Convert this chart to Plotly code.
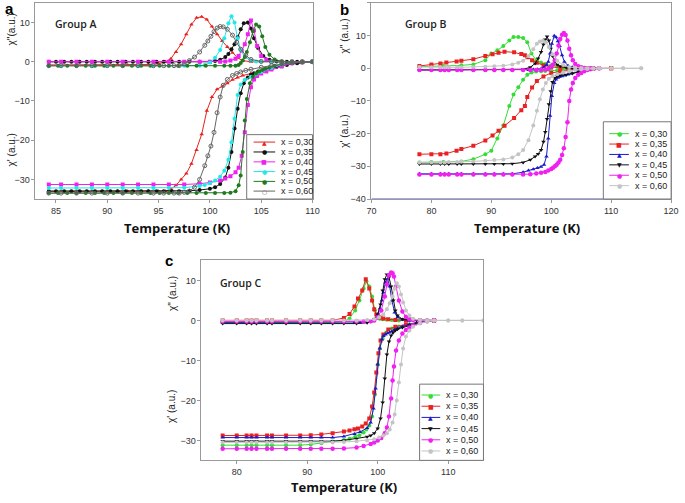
import plotly.graph_objects as go

W, H = 685, 503
LABELS = ["x = 0,30", "x = 0,35", "x = 0,40", "x = 0,45", "x = 0,50", "x = 0,60"]

# ---------------- Panel A (Group A) ----------------
a30_T = [84.3, 85.5, 87, 88.5, 90, 91, 92, 93, 94, 95, 95.7, 96.2, 96.7, 97.2, 97.7, 98.2, 98.7, 99.2, 99.7, 100.2,
         100.7, 101.2, 101.7, 102.2, 102.7, 103.2, 104, 105, 106, 107, 108, 109, 110]
a30_chi2 = [-0.8, -0.8, -0.8, -0.8, -0.8, -0.8, -0.8, -0.8, -0.7, -0.5, 0, 0.8, 2.5, 4.5, 7, 9.5, 11.2, 11.5, 10.8, 9,
            7, 5.3, 3.8, 2.3, 1, 0.3, 0, 0, 0, 0, 0, 0, 0]
a30_chi1 = [-33, -33, -33, -33, -33, -33, -33, -33, -33, -33, -33, -32.5, -31.5, -30, -28.5, -26, -22.5, -18.5, -12.5, -9,
            -7, -6.3, -5.5, -4.6, -4, -3.5, -3, -2.3, -1.8, -1.2, -0.5, -0.2, 0]

a35_T = [84.3, 85, 85.8, 86.5, 87.3, 88, 88.8, 89.5, 90.3, 91, 91.8, 92.5, 93.3, 94, 94.8, 95.5, 96.3, 97, 98, 99,
         100, 100.5, 101, 101.5, 101.8, 102.1, 102.4, 102.7, 103, 103.3, 103.7, 104, 104.3, 104.7, 105.2, 105.8, 106.5,
         107.5, 108.5, 110]
a35_chi2 = [0, 0, 0, 0, 0, 0, 0, 0, 0, 0, 0, 0, 0, 0, 0, 0, 0, 0, 0, 0,
            0, 0.2, 0.5, 1.2, 2, 3.2, 4.5, 6.3, 8.3, 9.8, 10, 8.5, 6, 3.5, 1.5, 0.5, 0.1, 0, 0, 0]
a35_chi1 = [-33, -33, -33, -33, -33, -33, -33, -33, -33, -33, -33, -33, -33, -33, -33, -33, -33, -33, -32.9, -32.7,
            -32.4, -32, -31.2, -29.5, -27, -23, -17, -12, -8, -5.5, -4, -3.3, -2.9, -2.5, -2.1, -1.7, -1.3, -0.8, -0.4, 0]

a40_T = [84.3, 85.5, 87, 88.5, 90, 91.5, 93, 94.5, 96, 97.5, 99, 100, 101, 101.5, 102, 102.5, 102.8, 103.1, 103.4, 103.7,
         104, 104.3, 104.6, 105, 105.5, 106, 107, 108, 109, 110]
a40_chi2 = [0, 0, 0, 0, 0, 0, 0, 0, 0, 0, 0, 0, 0, 0.1, 0.3, 0.8, 1.5, 2.8, 4.5, 7,
            10.5, 8, 4, 1.5, 0.5, 0.1, 0, 0, 0, 0]
a40_chi1 = [-31.3, -31.3, -31.3, -31.3, -31.3, -31.3, -31.3, -31.3, -31.3, -31.3, -31.1, -30.8, -30.3, -29.8, -29.2,
            -28.2, -27, -24, -18, -11, -6.5, -4.5, -3.6, -3, -2.5, -2, -1.2, -0.4, -0.1, 0]

a45_T = [84.3, 85.5, 87, 88.5, 90, 91.5, 93, 94.5, 96, 97.5, 99, 99.5, 100, 100.5, 101, 101.4, 101.8, 102.1, 102.4,
         102.7, 103, 103.4, 104, 104.5, 105, 106, 107, 108, 110]
a45_chi2 = [-1, -1, -1, -1, -1, -1, -1, -1, -1, -1, -1, -0.8, -0.2, 1, 3, 6, 9.8, 11.6, 10,
            6, 3, 1.2, 0.3, 0.1, 0, 0, 0, 0, 0]
a45_chi1 = [-32.2, -32.2, -32.2, -32.2, -32.2, -32.2, -32.2, -32.2, -32.2, -32.1, -31.7, -31.4, -31, -30.3, -29.3,
            -27.8, -25, -20.5, -14.5, -8.5, -5.8, -4.6, -3.8, -3.2, -2.6, -1.6, -0.8, -0.2, 0]

a50_T = [84.3, 85.2, 86.1, 87, 87.9, 88.8, 89.7, 90.6, 91.5, 92.4, 93.3, 94.2, 95.1, 96, 96.9, 97.8, 98.7, 99.6, 100.5,
         101.4, 102, 102.5, 102.8, 103, 103.2, 103.4, 103.6, 103.9, 104.2, 104.5, 104.8, 105.1, 105.4, 105.8, 106.3,
         107, 108, 109, 110]
a50_chi2 = [-1, -1, -1, -1, -1, -1, -1, -1, -1, -1, -1, -1, -1, -1, -1, -1, -1, -1, -1, -1, -1, -1,
            -0.8, -0.3, 0.3, 1.2, 2.5, 5, 7.8, 9.5, 9, 6.5, 3.8, 1.8, 0.6, 0.1, 0, 0, 0]
a50_chi1 = [-33.5, -33.5, -33.5, -33.5, -33.5, -33.5, -33.5, -33.5, -33.5, -33.5, -33.5, -33.5, -33.5, -33.5, -33.5,
            -33.5, -33.5, -33.5, -33.5, -33.5, -33.4, -33, -31.5, -29, -23, -15, -9.5, -5.5, -3.8, -3, -2.5, -2.1,
            -1.8, -1.4, -1, -0.6, -0.2, 0, 0]

a60_T = [84.3, 85.5, 87, 88.5, 90, 91.5, 93, 94.5, 95.5, 96.5, 97, 97.5, 98, 98.5, 99, 99.5, 99.8, 100.1, 100.4, 100.7,
         101, 101.3, 101.7, 102.2, 102.6, 103, 103.5, 104, 105, 106, 107, 108, 109, 110]
a60_chi2 = [-1, -1, -1, -1, -1, -1, -1, -1, -1, -1, -1, -0.5, 0.3, 1.2, 2.5, 4.2, 5.3, 6.5, 7.7, 8.6,
            9, 8.9, 8.3, 6.8, 5, 3.2, 1.6, 0.6, 0.1, 0, 0, 0, 0, 0]
a60_chi1 = [-33.5, -33.5, -33.5, -33.5, -33.5, -33.5, -33.5, -33.5, -33.5, -33.5, -33.5, -33.3, -33, -32, -30, -26.5,
            -24, -21.5, -18, -13, -9, -6, -4.5, -3.5, -3, -2.6, -2.2, -1.9, -1.4, -1, -0.6, -0.3, -0.1, 0]

# ---------------- Panel B (Group B) ----------------
b30_T = [78, 80, 82, 85, 87, 89, 90, 91, 92, 93, 93.7, 94.5, 95.3, 96, 96.7, 97.5, 98.3, 99, 100, 101, 102, 103, 104,
         105, 106]
b30_chi2 = [0.5, 0.6, 0.7, 0.9, 1.2, 2.5, 4.5, 5.5, 6.8, 8.5, 9.6, 9.6, 9.3, 8, 4.5, 2.5, 1.8, 1.3, 0.9, 0.6, 0.4, 0.2,
            0.1, 0, 0]
b30_chi1 = [-28.8, -28.7, -28.7, -28.5, -27.8, -26.3, -25.2, -21.5, -17.5, -11.5, -8, -5.8, -3.5, -2, -1.3, -1, -0.9,
            -0.8, -0.7, -0.6, -0.5, -0.4, -0.2, -0.1, 0]

b35_T = [78, 80, 81.5, 82.5, 84.2, 85, 87, 89, 90.2, 91.2, 92.2, 93.8, 95, 95.6, 96, 96.8, 97.6, 98.7, 100, 101.5, 103,
         105, 107, 110]
b35_chi2 = [0.7, 1.2, 1.5, 1.8, 2.1, 2.3, 2.8, 3.8, 4.3, 4.8, 5.1, 4.9, 4.4, 4, 3.4, 2.5, 1.7, 0.9, 0.4, 0.2, 0.1, 0, 0, 0]
b35_chi1 = [-26.3, -26.3, -26.3, -26.1, -25.2, -24.7, -23.7, -22.1, -20.6, -19.1, -17.6, -15.2, -12.8, -11.5, -8.8,
            -5.9, -3.9, -2.5, -1.4, -0.9, -0.6, -0.3, -0.1, 0]

b40_T = [78, 80, 81.5, 82.2, 82.9, 84.3, 85, 87, 89, 90.5, 92, 93.5, 95.3, 96.2, 97, 97.7, 98.3, 98.8, 99.2, 99.5, 99.8,
         100.1, 100.5, 100.8, 101.1, 101.4, 101.8, 102.2, 102.8, 103.5, 104.5, 106, 108]
b40_chi2 = [-0.5, -0.5, -0.5, -0.5, -0.5, -0.5, -0.5, -0.5, -0.5, -0.5, -0.5, -0.5, -0.5, -0.5, -0.4, -0.3, -0.1, 0.3,
            1, 2, 4.5, 7.5, 10, 9.5, 8.3, 6.8, 4, 2, 0.8, 0.3, 0.1, 0, 0]
b40_chi1 = [-32.3, -32.3, -32.3, -32.3, -32.3, -32.3, -32.3, -32.3, -32.3, -32.3, -32.3, -32.3, -31.8, -31.3, -30.9,
            -30.5, -30.1, -29.5, -27, -21.5, -14.5, -8.5, -4.5, -3.4, -2.9, -2.6, -2.4, -2.2, -1.9, -1.5, -1, -0.4, 0]

b45_T = [78, 80, 81.5, 82.2, 82.9, 84.3, 85, 87, 89, 90.5, 92, 93.5, 95.3, 96.5, 97.3, 97.8, 98.3, 98.7, 99, 99.3, 99.6,
         99.9, 100.2, 100.6, 101, 101.5, 102.5, 103.5, 104.5, 105.5, 107]
b45_chi2 = [-0.5, -0.5, -0.5, -0.5, -0.5, -0.5, -0.5, -0.5, -0.5, -0.5, -0.5, -0.5, -0.3, 0.3, 1.5, 3, 5, 7.3, 8.8, 9.7,
            8.5, 6, 3.8, 2, 1.1, 0.6, 0.2, 0.1, 0, 0, 0]
b45_chi1 = [-29.3, -29.3, -29.3, -29.3, -29.3, -29.3, -29.3, -29.3, -29.3, -29.3, -29.3, -29.2, -28.8, -28, -27,
            -26.2, -25, -22.5, -19.5, -15.5, -11, -7, -4.2, -3, -2.5, -2.2, -2, -1.6, -1.1, -0.6, 0]

b50_T = [78, 80, 81.5, 82.2, 82.9, 84.3, 85, 87, 89, 90.5, 92, 93.5, 95.3, 96.5, 97.5, 98.3, 99, 99.5, 100, 100.3, 100.6,
         100.9, 101.2, 101.5, 101.8, 102.1, 102.4, 102.7, 103, 103.3, 103.6, 104, 104.5, 105, 105.5, 106, 106.5, 107, 108]
b50_chi2 = [-0.5, -0.5, -0.5, -0.5, -0.5, -0.5, -0.5, -0.5, -0.5, -0.5, -0.5, -0.5, -0.5, -0.5, -0.5, -0.5,
            -0.4, -0.2, 0.5, 1.2, 2.5, 4.5, 7, 9, 10.3, 10.8, 10.2, 8.5, 6, 4, 2.5, 1.3, 0.6, 0.3, 0.1, 0, 0, 0, 0]
b50_chi1 = [-32.5, -32.5, -32.5, -32.5, -32.5, -32.5, -32.5, -32.5, -32.5, -32.5, -32.5, -32.5, -32.5,
            -32.4, -32.2, -32, -31.7, -31.3, -30.8, -30.4, -30, -29.5, -28.8, -28, -26.5, -24.5, -21, -16.5, -10,
            -6.5, -4.5, -3, -2, -1.4, -0.9, -0.5, -0.3, -0.1, 0]

b60_T = [78, 80, 81.5, 82.2, 82.9, 84.3, 85, 87, 89, 90.5, 92, 93.5, 94.5, 95.3, 96.2, 97, 97.6, 98.1, 98.6, 99.1, 99.6,
         100.2, 101, 102, 103, 104, 105, 106, 107, 108, 110, 112, 115]
b60_chi2 = [0.4, 0.3, 0.3, 0.3, 0.3, 0.3, 0.3, 0.4, 0.5, 0.6, 0.8, 1.2, 1.7, 2.3, 3.8, 5.8, 7.5, 8.2, 8.4, 8, 6.5, 4.3,
            2.3, 1, 0.4, 0.2, 0.1, 0, 0, 0, 0, 0, 0]
b60_chi1 = [-28.8, -28.8, -28.8, -28.8, -28.7, -28.7, -28.6, -28.5, -28.3, -28.1, -27.9, -27.3, -26.3, -25, -22,
            -17.5, -13, -9.5, -6.5, -4.5, -3.2, -2.4, -1.8, -1.2, -0.8, -0.5, -0.3, -0.2, -0.1, 0, 0, 0, 0]

# ---------------- Panel C (Group C) ----------------
c30_T = [78, 80, 81.4, 82.1, 82.8, 84.3, 85, 87, 89, 90.5, 92, 93.6, 95.2, 96, 96.8, 97.4, 98, 98.4, 98.8, 99.2, 99.6,
         100, 100.3, 100.7, 101.2, 102, 103, 104.5, 106, 108]
c30_chi2 = [-0.5, -0.5, -0.5, -0.5, -0.5, -0.5, -0.5, -0.5, -0.5, -0.5, -0.5, -0.5, -0.3, 0.5, 2.5, 5, 8, 9.8, 8.5, 6,
            2.5, 0.8, 0.4, 0.3, 0.2, 0.1, 0, 0, 0, 0]
c30_chi1 = [-31.2, -31.2, -31.2, -31.2, -31.2, -31.2, -31.2, -31.2, -31.2, -31, -30.7, -30.3, -29.9, -29.6, -29.1,
            -28.7, -28, -27.3, -26.3, -24, -18.5, -11, -7, -4.5, -3, -2, -1.5, -1, -0.5, 0]

c35_T = [78, 80, 81.4, 82.1, 82.8, 84.3, 85, 87, 89, 90.5, 92, 93.6, 95.2, 96, 96.7, 97.2, 97.8, 98.3, 98.8, 99.2, 99.5,
         99.8, 100.1, 100.4, 100.8, 101.5, 102.5, 104, 106, 108]
c35_chi2 = [0, 0, 0, 0, 0, 0, 0, 0, 0, 0, 0, 0, 0.6, 1.6, 3.5, 5.5, 7.5, 10.3, 8, 5, 2.8, 1.5, 0.9, 0.7, 0.5, 0.3, 0.1,
            0, 0, 0]
c35_chi1 = [-28.8, -28.8, -28.8, -28.8, -28.8, -28.8, -28.8, -28.8, -28.8, -28.7, -28.5, -28.2, -27.8, -27.5, -27.2,
            -27, -26.5, -25.8, -24.5, -21.5, -18, -13, -8.2, -5, -3.5, -2.3, -1.6, -1, -0.5, 0]

c40_T = [78, 80, 81.4, 82.1, 82.8, 84.3, 85, 87, 89, 90.5, 92, 93.6, 95.2, 96.7, 97.5, 98.5, 99, 99.4, 99.7, 100, 100.3,
         100.6, 100.8, 101.1, 101.4, 101.7, 102, 102.4, 102.8, 103.5, 104.5, 106, 107]
c40_chi2 = [-0.5, -0.5, -0.5, -0.5, -0.5, -0.5, -0.5, -0.5, -0.5, -0.5, -0.5, -0.5, -0.5, -0.5, -0.5, -0.4, -0.2, 0,
            0.5, 1.5, 3, 5, 7, 9.5, 10.3, 8.5, 5, 2, 0.8, 0.2, 0, 0, 0]
c40_chi1 = [-29.3, -29.3, -29.3, -29.3, -29.3, -29.3, -29.3, -29.3, -29.3, -29.3, -29.3, -29.3, -29, -28.4, -27.9,
            -26.9, -25.5, -22, -17, -11, -7, -4.8, -3.9, -3.5, -3.2, -3, -2.7, -2.3, -2, -1.5, -1, -0.3, 0]

c45_T = [78, 80, 81.4, 82.1, 82.8, 84.3, 85, 87, 89, 90.5, 92, 93.6, 95.2, 97, 98.5, 99, 99.5, 100, 100.4, 100.7, 101,
         101.3, 101.6, 101.9, 102.2, 102.5, 102.8, 103.5, 104.5, 105.5, 107, 108]
c45_chi2 = [-0.8, -0.8, -0.8, -0.8, -0.8, -0.8, -0.8, -0.8, -0.8, -0.8, -0.8, -0.8, -0.8, -0.8, -0.6, -0.3, 0.3, 1.5,
            4, 7.5, 10.3, 11.5, 10.8, 8.5, 5, 2.5, 1.2, 0.3, 0.1, 0, 0, 0]
c45_chi1 = [-30.2, -30.2, -30.2, -30.2, -30.2, -30.2, -30.2, -30.2, -30.2, -30.2, -30.2, -30.2, -30, -29.6, -29.1,
            -28.8, -28.2, -27, -24.5, -20.5, -14.5, -8.5, -5.3, -3.8, -3, -2.5, -2.2, -1.8, -1.3, -0.8, -0.2, 0]

c50_T = [78, 80, 81.4, 82.1, 82.8, 84.3, 85, 87, 89, 90.5, 92, 93.6, 95.2, 97, 98, 99, 99.5, 100, 100.5, 101, 101.3,
         101.6, 101.9, 102.1, 102.3, 102.6, 103, 103.5, 104, 104.5, 105, 106, 107, 108]
c50_chi2 = [-0.3, -0.3, -0.3, -0.3, -0.3, -0.3, -0.3, -0.3, -0.3, -0.3, -0.3, -0.3, -0.3, -0.3, -0.3, -0.2, 0, 0.8,
            2.5, 6, 9, 11.3, 12, 11.8, 11, 8.5, 5, 2.2, 0.9, 0.3, 0.1, 0, 0, 0]
c50_chi1 = [-32.1, -32.1, -32.1, -32.1, -32.1, -32.1, -32.1, -32.1, -32.1, -32.1, -32.1, -32.1, -32, -31.8, -31.4,
            -30.9, -30.5, -30, -29.4, -28.2, -26.8, -24, -19.5, -15, -11.5, -7.5, -5, -3.3, -2.4, -1.8, -1.3, -0.6,
            -0.2, 0]

c60_T = [78, 80, 81.4, 82.1, 82.8, 84.3, 85, 87, 89, 90.5, 92, 93.6, 95.2, 97, 98.5, 99.5, 100.2, 100.8, 101.3, 101.7,
         102.1, 102.4, 102.7, 103, 103.3, 103.6, 104, 104.5, 105, 106, 107, 108, 110, 112, 115]
c60_chi2 = [0, 0, 0, 0, 0, 0, 0, 0, 0, 0, 0, 0, 0, 0, 0.1, 0.3, 0.8, 1.5, 2.8, 4.3, 6, 8, 9.3, 8.5, 6.5, 4.5, 2.5, 1.2,
            0.4, 0.1, 0, 0, 0, 0, 0]
c60_chi1 = [-30.5, -30.5, -30.5, -30.5, -30.5, -30.5, -30.5, -30.5, -30.5, -30.5, -30.5, -30.5, -30.4, -30.2, -30,
            -29.7, -29.3, -28.8, -28.2, -27.3, -25.5, -23.5, -20, -15.5, -11, -7, -4, -2.5, -1.6, -0.8, -0.3, 0, 0,
            0, 0]

# ---------------- styling ----------------
A_COLORS = ["#e8231e", "#111111", "#ee22ee", "#22e8e8", "#1f7a1f", "#666666"]
A_SYMBOLS = ["triangle-up", "circle", "square", "circle", "circle", "circle-open"]
A_GLYPHS = ["▲", "●", "■", "●", "●", "○"]
BC_COLORS = ["#33dd33", "#e82222", "#1a1acc", "#111111", "#f020f0", "#c4c4c4"]
BC_SYMBOLS = ["circle", "square", "triangle-up", "triangle-down", "circle", "circle"]
BC_GLYPHS = ["●", "■", "▲", "▼", "●", "●"]

panelA = [(a30_T, a30_chi2, a30_chi1), (a35_T, a35_chi2, a35_chi1), (a40_T, a40_chi2, a40_chi1),
          (a45_T, a45_chi2, a45_chi1), (a50_T, a50_chi2, a50_chi1), (a60_T, a60_chi2, a60_chi1)]
panelB = [(b30_T, b30_chi2, b30_chi1), (b35_T, b35_chi2, b35_chi1), (b40_T, b40_chi2, b40_chi1),
          (b45_T, b45_chi2, b45_chi1), (b50_T, b50_chi2, b50_chi1), (b60_T, b60_chi2, b60_chi1)]
panelC = [(c30_T, c30_chi2, c30_chi1), (c35_T, c35_chi2, c35_chi1), (c40_T, c40_chi2, c40_chi1),
          (c45_T, c45_chi2, c45_chi1), (c50_T, c50_chi2, c50_chi1), (c60_T, c60_chi2, c60_chi1)]


def px(x):
    return x / W


def py(y):
    return 1 - y / H


fig = go.Figure()


def add_panel(data, colors, symbols, xa, ya, msize):
    for (T, c2, c1), col, sym, lab in zip(data, colors, symbols, LABELS):
        ms = msize + (0.5 if col == "#f020f0" else 0)
        for yy in (c2, c1):
            fig.add_trace(go.Scatter(
                x=T, y=yy, mode="lines+markers", name=lab, showlegend=False,
                xaxis=xa, yaxis=ya,
                line=dict(color=col, width=1),
                marker=dict(symbol=sym, size=ms, color=col,
                            line=dict(width=1 if sym == "circle-open" else 0, color=col))))


add_panel(panelA, A_COLORS, A_SYMBOLS, "x", "y", 4)
add_panel(panelB, BC_COLORS, BC_SYMBOLS, "x2", "y2", 4)
add_panel(panelC, BC_COLORS, BC_SYMBOLS, "x3", "y3", 4)

TICKFONT = dict(family="Liberation Sans, Arial, sans-serif", size=9, color="#333333")


def axis(rng, domain, anchor, tickvals):
    return dict(range=rng, domain=domain, anchor=anchor, tickvals=tickvals,
                showline=True, linecolor="#999999", linewidth=1, mirror=True,
                ticks="outside", ticklen=3, tickcolor="#999999", showgrid=False,
                zeroline=False, tickfont=TICKFONT, fixedrange=True)


yA = [py(201), py(3)]
yC = [py(465), py(263)]
fig.update_layout(
    width=W, height=H, margin=dict(l=0, r=0, t=0, b=0),
    paper_bgcolor="white", plot_bgcolor="white", showlegend=False,
    xaxis=axis([83, 110], [px(31), px(313)], "y", [85, 90, 95, 100, 105, 110]),
    yaxis=axis([-35, 15], yA, "x", [-30, -20, -10, 0, 10]),
    xaxis2=axis([70, 120], [px(373), px(678)], "y2", [70, 80, 90, 100, 110, 120]),
    yaxis2=axis([-40, 20], yA, "x2", [-40, -30, -20, -10, 0, 10, 20]),
    xaxis3=axis([75, 115], [px(200), px(487)], "y3", [80, 90, 100, 110]),
    yaxis3=axis([-35, 15], yC, "x3", [-30, -20, -10, 0, 10]),
)

ann = []
shapes = []
LBLFONT = dict(family="Liberation Sans, Arial, sans-serif", size=10, color="#222222")


def text(x, y, t, font, angle=0, xanchor="center"):
    ann.append(dict(x=px(x), y=py(y), xref="paper", yref="paper", text=t, showarrow=False,
                    font=font, textangle=angle, xanchor=xanchor, yanchor="middle"))


LETTER = dict(family="Liberation Sans, Arial, sans-serif", size=15, color="#000000", weight="bold")
GROUP = dict(family="Open Sans, sans-serif", size=10.5, color="#222222", weight=600)
XT = dict(family="Open Sans, sans-serif", size=13, color="#111111", weight="bold")

text(5, 9, "a", LETTER)
text(346, 10, "b", LETTER)
text(167, 263, "c", LETTER)
text(72, 24, "Group A", GROUP)
text(428, 24, "Group B", GROUP)
text(240, 286, "Group C", GROUP)
text(175, 230, "Temperature (K)", XT)
text(531, 230, "Temperature (K)", XT)
text(345, 492, "Temperature (K)", XT)

text(7, 30, "χ''(a.u.)", LBLFONT, -90)
text(7, 151, "χ' (a.u.)", LBLFONT, -90)
text(346, 36, "χ'' (a.u.)", LBLFONT, -90)
text(346, 132, "χ' (a.u.)", LBLFONT, -90)
text(170, 297, "χ'' (a.u.)", LBLFONT, -90)
text(170, 411, "χ' (a.u.)", LBLFONT, -90)

# blue trace along the bottom edge of panel B
shapes.append(dict(type="line", xref="x2", yref="y2", x0=70, x1=120, y0=-40, y1=-40,
                   line=dict(color="#4a55c8", width=1)))

LEGFONT = dict(family="Liberation Sans, Arial, sans-serif", size=9, color="#222222")


def legend(box, ys, lx0, lx1, tx, colors, glyphs, gsize):
    x0, y0, x1, y1 = box
    shapes.append(dict(type="rect", xref="paper", yref="paper", x0=px(x0), x1=px(x1), y0=py(y1), y1=py(y0),
                       fillcolor="white", line=dict(color="#777777", width=1), layer="above"))
    for y, col, g, lab in zip(ys, colors, glyphs, LABELS):
        shapes.append(dict(type="line", xref="paper", yref="paper", x0=px(lx0), x1=px(lx1), y0=py(y), y1=py(y),
                           line=dict(color=col, width=1), layer="above"))
        text((lx0 + lx1) / 2, y, g, dict(family="DejaVu Sans", size=gsize, color=col))
        text(tx, y, lab, LEGFONT, xanchor="left")


legend((246, 136, 313, 201), [143.5, 153.5, 163.5, 173.3, 183.2, 193], 253, 275, 279, A_COLORS, A_GLYPHS, 6)
legend((609, 123, 678, 201), [135, 145.5, 156, 166.5, 177, 187.5], 615, 635, 639, BC_COLORS, BC_GLYPHS, 6)
legend((422, 388, 487, 465), [399, 410.3, 421.6, 432.9, 444.2, 455.5], 424, 443, 447, BC_COLORS, BC_GLYPHS, 6)

fig.update_layout(annotations=ann, shapes=shapes)
fig.write_html("out.html", config={"displayModeBar": False},
               post_script="document.body.style.margin='0px';document.body.style.padding='0px';")
